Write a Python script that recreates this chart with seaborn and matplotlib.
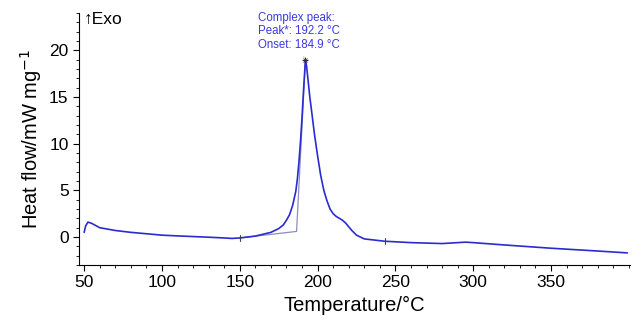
import numpy as np
import pandas as pd
import matplotlib.pyplot as plt
import seaborn as sns

# DSC trace
temperature = [50, 51, 52.5, 55, 60, 70, 80, 90, 100, 110, 120, 130, 140, 145, 150,
               160, 170, 175, 178, 180, 182, 184, 186, 187, 188, 189, 190, 191, 192.2,
               193, 194, 195, 196, 198, 200, 202, 204, 206, 208, 210, 212, 214, 216,
               218, 220, 222, 225, 230, 243, 260, 280, 290, 295, 300, 320, 350, 380, 399]
heat_flow = [0.5, 1.2, 1.6, 1.45, 1.0, 0.7, 0.5, 0.35, 0.2, 0.12, 0.05, -0.02, -0.1, -0.15, -0.1,
             0.1, 0.5, 0.9, 1.3, 1.8, 2.4, 3.4, 4.9, 6.2, 8.0, 10.2, 12.8, 15.8, 19.0,
             18.2, 16.6, 15.0, 13.7, 11.0, 8.7, 6.6, 5.0, 3.9, 3.0, 2.5, 2.2, 2.0, 1.8,
             1.5, 1.1, 0.7, 0.2, -0.2, -0.45, -0.6, -0.7, -0.6, -0.55, -0.6, -0.85, -1.2, -1.5, -1.7]

# integration baseline of the complex peak
baseline_t = [150, 186.5, 192.2]
baseline_y = [-0.1, 0.6, 19.0]
marker_t = [150, 243]
marker_y = [-0.1, -0.45]
peak_t, peak_y = 192.2, 19.0

x_ticks = [50, 100, 150, 200, 250, 300, 350]
y_ticks = [0, 5, 10, 15, 20]

sns.set_style("ticks", {'axes.edgecolor': 'black', 'text.color': 'black',
                        'axes.labelcolor': 'black', 'xtick.color': 'black',
                        'ytick.color': 'black'})
plt.rcParams['font.family'] = ['Liberation Sans', 'DejaVu Sans']

fig = plt.figure(figsize=(6.32, 3.24), dpi=100)
ax = fig.add_axes([0.125, 0.182, 0.872, 0.778])

df = pd.DataFrame({'T': temperature, 'HF': heat_flow})
sns.lineplot(data=df, x='T', y='HF', ax=ax, color='#2b2bd0', linewidth=1.2)
ax.plot(baseline_t, baseline_y, color='#8c8cc8', linewidth=0.9, zorder=1)

for t, v in zip(marker_t, marker_y):
    ax.plot([t, t], [v - 0.35, v + 0.35], color='#444444', linewidth=0.8)
ax.plot(peak_t, peak_y, marker='+', color='#333333', markersize=5, mew=0.8)
ax.plot(peak_t, peak_y, marker='x', color='#333333', markersize=3, mew=0.6)

ax.annotate('Complex peak:\nPeak*: 192.2 °C\nOnset: 184.9 °C',
            xy=(peak_t, peak_y), xytext=(161.5, 19.9), textcoords='data',
            fontsize=8.3, color='#3a3ae0', linespacing=1.2, va='bottom', ha='left',
            arrowprops=dict(arrowstyle='-', color='#888888', lw=0.6,
                            relpos=(0.52, 0.0)))

ax.text(49.5, 24.1, '\u2191Exo', fontsize=12.5, va='top', ha='left')

ax.set_xlim(46.7, 400.8)
ax.set_ylim(-3, 24)
ax.set_xticks(x_ticks)
ax.set_xticks(np.arange(50, 401, 10), minor=True)
ax.set_yticks(y_ticks)
ax.set_yticks(np.arange(-3, 25, 1), minor=True)
ax.tick_params(axis='both', which='major', labelsize=12.5, length=4, width=0.8, direction='out')
ax.tick_params(axis='both', which='minor', length=2, width=0.6, direction='out')
ax.set_xlabel('Temperature/°C', fontsize=14.5)
ax.set_ylabel('Heat flow/mW mg$^{-1}$', fontsize=14.5)
sns.despine(ax=ax)

fig.savefig('out.png', dpi=100)
